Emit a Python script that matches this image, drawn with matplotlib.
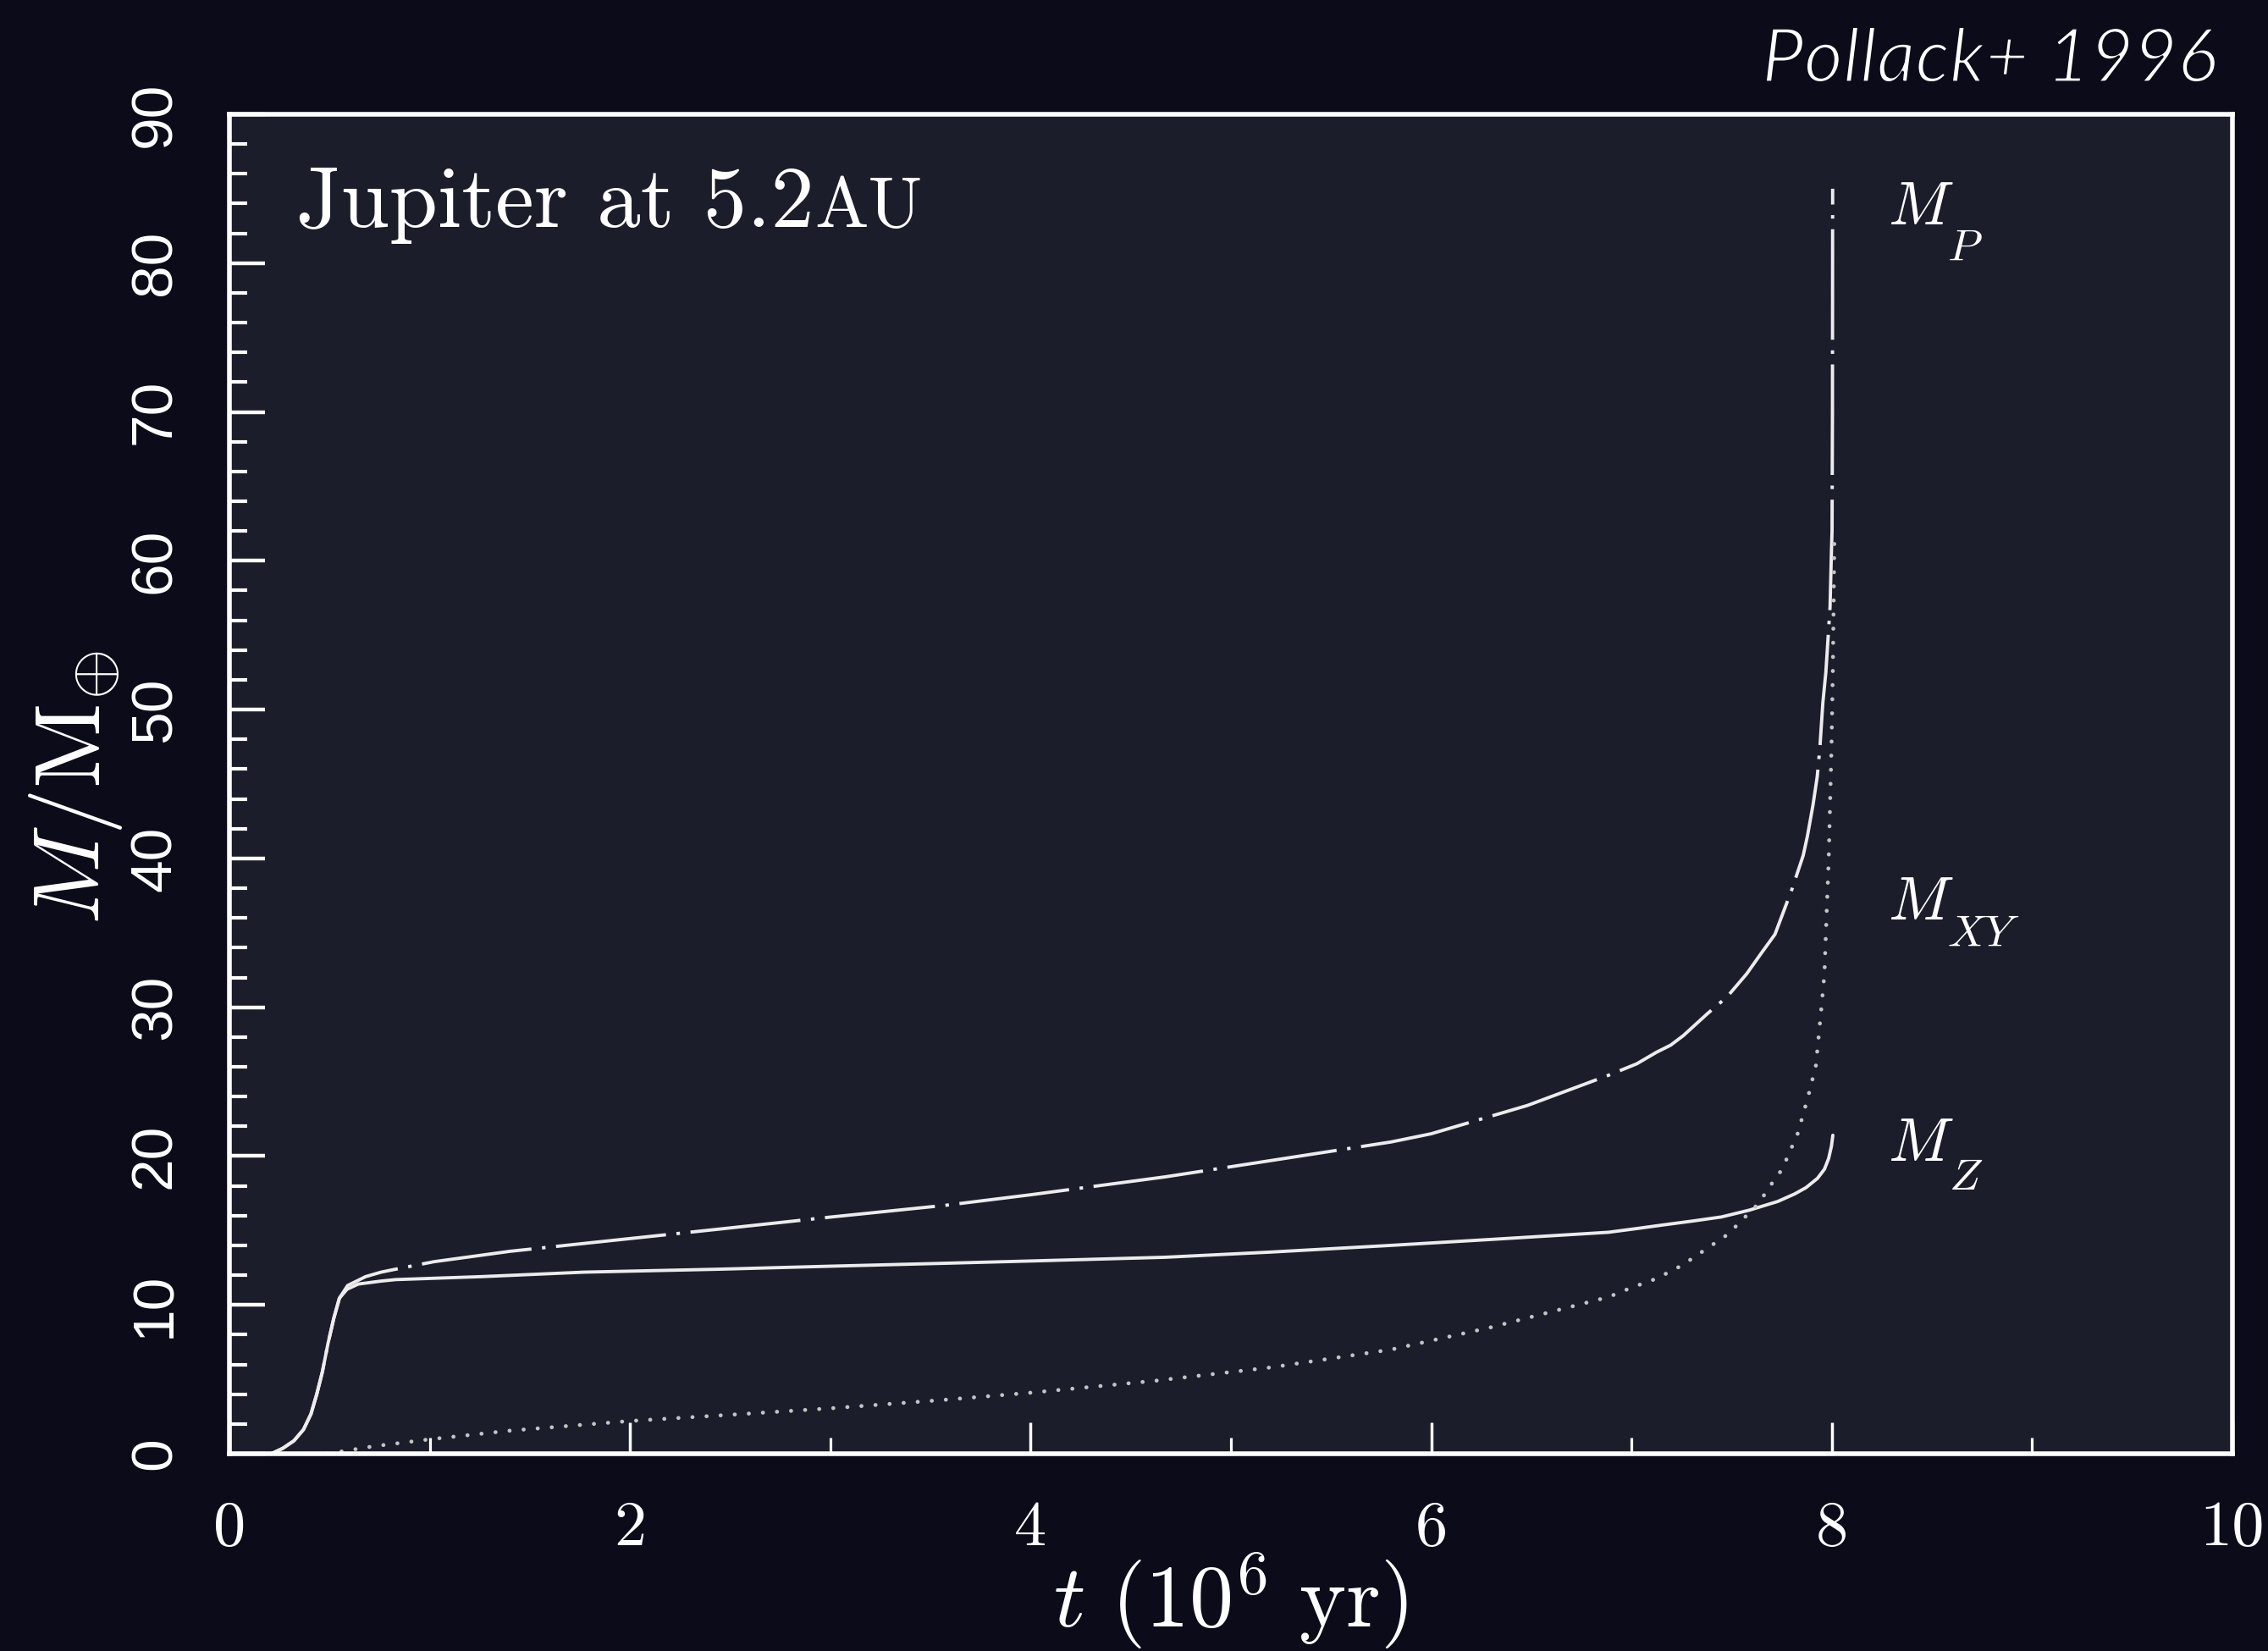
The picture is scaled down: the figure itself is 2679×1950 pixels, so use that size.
import matplotlib
matplotlib.use("Agg")
import matplotlib.pyplot as plt
import matplotlib.patheffects as pe
from matplotlib.ticker import MultipleLocator

# ---- data: mass growth of proto-Jupiter (Earth masses) vs time (Myr) ----
# core (solid) mass M_Z
t_core = [0.209, 0.266, 0.322, 0.370, 0.407, 0.436, 0.464, 0.492, 0.521, 0.549,
          0.587, 0.643, 0.757, 0.83, 1.26, 1.77, 2.45, 3.0, 3.58, 4.0, 4.67, 5.2,
          5.8, 6.3, 6.885, 7.026, 7.167, 7.308, 7.449, 7.589, 7.73, 7.815, 7.871,
          7.928, 7.963, 7.984, 7.998, 8.005]
m_core = [0.0, 0.36, 0.87, 1.63, 2.67, 4.0, 5.5, 7.4, 9.1, 10.45,
          11.05, 11.4, 11.6, 11.7, 11.9, 12.2, 12.4, 12.6, 12.8, 12.95, 13.2, 13.55,
          14.0, 14.4, 14.88, 15.13, 15.39, 15.64, 15.91, 16.37, 16.95, 17.46, 17.88,
          18.5, 19.12, 19.84, 20.67, 21.4]

# envelope (gas) mass M_XY
t_env = [0.49, 0.72, 1.0, 1.4, 2.0, 2.48, 3.0, 3.55, 4.0, 4.62, 5.2, 5.8, 6.3,
         6.885, 6.998, 7.125, 7.251, 7.371, 7.484, 7.533, 7.632, 7.702, 7.752,
         7.801, 7.829, 7.864, 7.885, 7.92, 7.945, 7.963, 7.975, 7.984, 7.998,
         8.005, 8.012, 8.013]
m_env = [0.0, 0.5, 0.97, 1.55, 2.2, 2.6, 3.05, 3.6, 4.1, 4.9, 5.8, 7.0, 8.5,
         10.53, 11.15, 11.77, 12.65, 13.74, 14.77, 15.45, 16.78, 18.19, 19.12,
         20.63, 21.5, 23.15, 24.19, 26.05, 29.56, 32.25, 36.7, 39.8, 47.4,
         52.7, 60.7, 62.0]

# total planet mass M_P
t_tot = [0.209, 0.266, 0.322, 0.370, 0.407, 0.436, 0.464, 0.492, 0.521, 0.549,
         0.59, 0.68, 0.757, 0.83, 1.02, 1.40, 1.96, 2.45, 3.0, 3.58, 4.0, 4.67,
         5.2, 5.8, 6.0, 6.48, 6.885, 7.026, 7.125, 7.195, 7.259, 7.378, 7.477,
         7.575, 7.646, 7.716, 7.80, 7.857, 7.878, 7.906, 7.927, 7.94, 7.955,
         7.97, 7.991, 7.998, 8.001, 8.003, 8.004]
m_tot = [0.0, 0.36, 0.87, 1.63, 2.67, 4.0, 5.5, 7.4, 9.1, 10.45,
         11.3, 11.9, 12.2, 12.4, 12.9, 13.6, 14.4, 15.1, 15.9, 16.7, 17.4, 18.6,
         19.7, 20.95, 21.5, 23.4, 25.43, 26.2, 26.98, 27.45, 28.1, 29.56, 30.7,
         32.25, 33.6, 34.9, 37.9, 40.2, 41.5, 43.6, 45.5, 47.4, 50.45,
         52.5, 56.9, 60.7, 62.0, 70.0, 85.0]

x_ticks = [0, 2, 4, 6, 8, 10]
x_tick_labels = ["0", "2", "4", "6", "8", "10"]
y_ticks = [0, 10, 20, 30, 40, 50, 60, 70, 80, 90]
y_tick_labels = ["0", "10", "20", "30", "40", "50", "60", "70", "80", "90"]

curve_subscripts = ["P", "XY", "Z"]
curve_label_x = [8.28, 8.28, 8.28]
curve_label_y = [82.6, 35.9, 19.7]
# subscript offsets (points) relative to the "M" anchor
sub_dx = [50, 50, 52]
sub_dy = [-31, -23, -25]

# ---- style ----
BG = "#0b0b1a"
AX_BG = "#1c1d2b"
FG = "#ffffff"
LINE = "#ececec"
DOTS = "#c4c4c4"

plt.rcParams["mathtext.fontset"] = "cm"
plt.rcParams["lines.scale_dashes"] = False

fig = plt.figure(figsize=(26.79, 19.5), dpi=100, facecolor=BG)
ax = fig.add_axes([0.10116, 0.11949, 0.88317, 0.81128])
ax.set_facecolor(AX_BG)
ax.set_xlim(0, 10)
ax.set_ylim(0, 90)

ax.plot(t_tot, m_tot, color=LINE, lw=2.8, linestyle=(0, (94, 9, 3, 9)),
        dash_capstyle="butt", dash_joinstyle="round")
ax.plot(t_core, m_core, color=LINE, lw=2.8, solid_capstyle="round",
        solid_joinstyle="round")
ax.plot(t_env, m_env, color=DOTS, lw=3.4, linestyle=(0, (0.1, 11.9)),
        dash_capstyle="round")

for s in ax.spines.values():
    s.set_color(FG)
    s.set_linewidth(4)

ax.set_xticks(x_ticks, labels=x_tick_labels)
ax.set_yticks(y_ticks, labels=y_tick_labels)
ax.xaxis.set_minor_locator(MultipleLocator(1))
ax.yaxis.set_minor_locator(MultipleLocator(2))
ax.tick_params(axis="both", which="both", direction="in", colors=FG,
               top=False, right=False)
ax.tick_params(axis="x", which="major", length=27, width=2.5, pad=40,
               labelsize=55, labelfontfamily="cmr10")
ax.tick_params(axis="x", which="minor", length=14, width=2.3)
ax.tick_params(axis="y", which="major", length=30, width=3.2, pad=40,
               labelsize=50, labelfontfamily="Liberation Sans", labelrotation=90)
ax.tick_params(axis="y", which="minor", length=15, width=3.0)
for lbl in ax.get_yticklabels():
    lbl.set_verticalalignment("center")

# axis titles
fig.text(0.5427, 0.0144, r"$t\ (10^6\ \mathrm{yr})$", color=FG, fontsize=75,
         ha="center", va="baseline")
fig.text(0.0437, 0.523, r"$M/\mathrm{M}_{\oplus}$", color=FG, fontsize=79,
         rotation=90, rotation_mode="anchor", ha="center", va="baseline")

# curve labels: italic M with a lowered subscript
for sub, lx, ly, dx, dy in zip(curve_subscripts, curve_label_x, curve_label_y,
                               sub_dx, sub_dy):
    ax.text(lx, ly, r"$M$", color=FG, fontsize=52, ha="left", va="baseline")
    ax.annotate(r"$" + sub + "$", xy=(lx, ly), xytext=(dx, dy),
                textcoords="offset points", color=FG, fontsize=38,
                ha="left", va="baseline")

# panel title with small-caps unit
title = ax.text(0.0334, 0.916, "Jupiter at 5.2", transform=ax.transAxes,
                color=FG, fontsize=74, family="cmr10", ha="left", va="baseline")
fig.canvas.draw()
bb = title.get_window_extent()
x_end = ax.transAxes.inverted().transform((bb.x1, bb.y0))[0]
ax.text(x_end, 0.916, "AU", transform=ax.transAxes, color=FG, fontsize=61,
        family="cmr10", ha="left", va="baseline")

# citation, slightly thinned glyphs
fig.text(0.9776, 0.9503, "Pollack+ 1996", color=FG, fontsize=64,
         family=["Lato", "DejaVu Sans"], fontstyle="italic", fontweight="normal",
         ha="right", va="baseline",
         path_effects=[pe.Normal(), pe.Stroke(linewidth=2.2, foreground=BG)])

fig.savefig("out.png", dpi=100, facecolor=BG)
